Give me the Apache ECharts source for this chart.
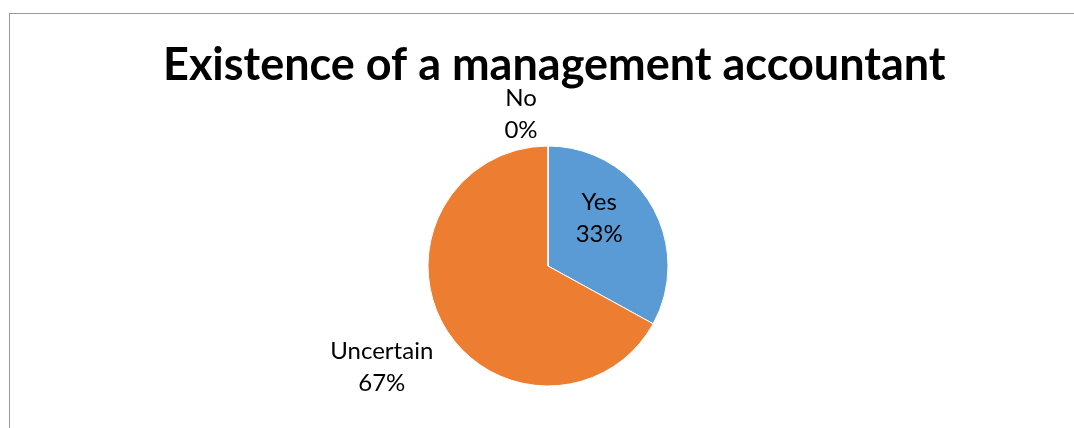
<!DOCTYPE html>
<html>
<head>
<meta charset="utf-8">
<script src="https://cdn.jsdelivr.net/npm/echarts@6/dist/echarts.min.js"></script>
<style>
  html, body { margin: 0; padding: 0; background: #fff; }
  #frame { position: absolute; left: 9px; top: 13px; width: 1070px; height: 440px;
           border: 1px solid #9a9a9a; box-sizing: border-box; }
  #chart { position: absolute; left: 0; top: 0; width: 1074px; height: 428px; }
</style>
</head>
<body>
<div id="frame"></div>
<div id="chart"></div>
<script>
// Survey answers and their shares of respondents (%)
const categories = ['Yes', 'Uncertain', 'No'];
const shares = [33, 67, 0];
const colors = ['#5B9BD5', '#ED7D31', '#A5A5A5'];
// Per-answer nudges for the data labels
const labelOffsets = [[-3, -16], [-112, 69], [-27, -89]];

const chart = echarts.init(document.getElementById('chart'));
chart.setOption({
  animation: false,
  title: {
    text: 'Existence of a management accountant',
    left: 158,
    top: 38,
    textStyle: { fontFamily: 'Lato', fontWeight: 'bold', fontSize: 45, color: '#000' }
  },
  series: [{
    type: 'pie',
    center: [548, 266],
    radius: 120,
    startAngle: 90,
    clockwise: true,
    avoidLabelOverlap: false,
    labelLine: { show: false },
    itemStyle: { borderColor: '#fff', borderWidth: 1 },
    label: {
      position: 'inside',
      fontFamily: 'Lato',
      fontSize: 24,
      color: '#000',
      lineHeight: 32,
      formatter: p => p.name + '\n' + Math.round(p.value) + '%'
    },
    data: categories.map((name, i) => ({
      name,
      value: shares[i],
      itemStyle: { color: colors[i] },
      label: { offset: labelOffsets[i] }
    }))
  }]
});
</script>
</body>
</html>
